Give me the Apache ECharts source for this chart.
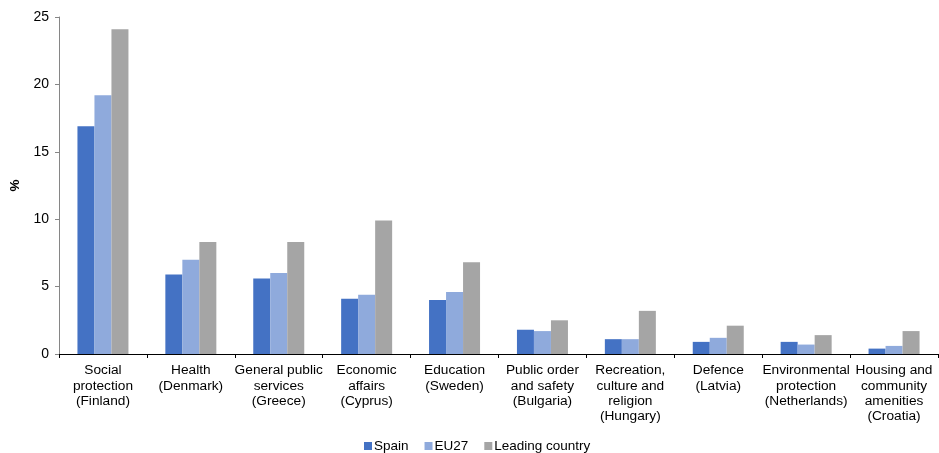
<!DOCTYPE html>
<html><head><meta charset="utf-8">
<script src="https://cdn.jsdelivr.net/npm/echarts@6/dist/echarts.min.js"></script>
<style>html,body{margin:0;padding:0;background:#fff}#c{width:939px;height:453px}</style>
</head><body><div id="c"></div>
<script>
var categories = ["Social\nprotection\n(Finland)", "Health\n(Denmark)", "General public\nservices\n(Greece)", "Economic\naffairs\n(Cyprus)", "Education\n(Sweden)", "Public order\nand safety\n(Bulgaria)", "Recreation,\nculture and\nreligion\n(Hungary)", "Defence\n(Latvia)", "Environmental\nprotection\n(Netherlands)", "Housing and\ncommunity\namenities\n(Croatia)"];
var spain = [16.9, 5.9, 5.6, 4.1, 4.0, 1.8, 1.1, 0.9, 0.9, 0.4];
var eu27 = [19.2, 7.0, 6.0, 4.4, 4.6, 1.7, 1.1, 1.2, 0.7, 0.6];
var leading = [24.1, 8.3, 8.3, 9.9, 6.8, 2.5, 3.2, 2.1, 1.4, 1.7];
var seriesNames = ["Spain", "EU27", "Leading country"];
var colors = ["#4472C4", "#8FAADC", "#A5A5A5"];
var font = "'Liberation Sans', Arial, sans-serif";
var chart = echarts.init(document.getElementById('c'), null, {renderer: 'canvas'});
chart.setOption({
  animation: false,
  color: colors,
  textStyle: {fontFamily: font},
  grid: {left: 54, right: 1, top: 17, bottom: 99, containLabel: false},
  legend: {
    bottom: -5, left: 359, itemWidth: 8, itemHeight: 8, itemGap: 16,
    icon: 'rect',
    textStyle: {fontFamily: font, fontSize: 13.5, color: '#000', padding: [0, 0, 0, -3]},
    data: seriesNames
  },
  xAxis: {
    type: 'category', data: categories,
    axisLine: {lineStyle: {color: '#000', width: 1}},
    axisTick: {show: true, length: 4, lineStyle: {color: '#000'}},
    axisLabel: {interval: 0, color: '#000', fontSize: 13.7, lineHeight: 15.3, margin: 9, fontFamily: font}
  },
  yAxis: {
    type: 'value', min: 0, max: 25, interval: 5,
    name: '%', nameLocation: 'middle', nameGap: 37, nameRotate: 90,
    nameTextStyle: {color: '#000', fontSize: 13.5, fontWeight: 'bold', fontFamily: font},
    axisLine: {show: true, lineStyle: {color: '#868686', width: 1}},
    axisTick: {show: true, length: 4, lineStyle: {color: '#868686'}},
    axisLabel: {color: '#000', fontSize: 14, margin: 10, fontFamily: font},
    splitLine: {show: false}
  },
  series: [
    {name: seriesNames[0], type: 'bar', data: spain, barWidth: 17, barGap: '0%', barCategoryGap: '42%', itemStyle: {color: colors[0]}},
    {name: seriesNames[1], type: 'bar', data: eu27, barWidth: 17, barGap: '0%', itemStyle: {color: colors[1]}},
    {name: seriesNames[2], type: 'bar', data: leading, barWidth: 17, barGap: '0%', itemStyle: {color: colors[2]}}
  ]
});
</script></body></html>
